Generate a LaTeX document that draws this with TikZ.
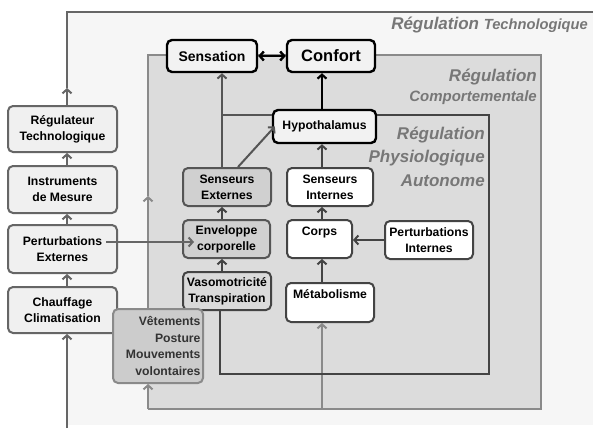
\documentclass[tikz,border=0pt]{standalone}
\usepackage{fontspec}
\setmainfont{Liberation Sans}
\usetikzlibrary{arrows.meta}
\definecolor{bgA}{HTML}{F6F6F6}
\definecolor{bgB}{HTML}{DCDCDC}
\definecolor{cLeft}{HTML}{F0F0F0}
\definecolor{cLeftB}{HTML}{666666}
\definecolor{cTop}{HTML}{F2F2F2}
\definecolor{cGray}{HTML}{D0D0D0}
\definecolor{cVaso}{HTML}{DADADA}
\definecolor{cVet}{HTML}{CCCCCC}
\definecolor{cVetB}{HTML}{8A8A8A}
\definecolor{cDark}{HTML}{444444}
\definecolor{cMid}{HTML}{555555}
\definecolor{cLab}{HTML}{777777}
\definecolor{cTxt}{HTML}{333333}
\begin{document}
\begin{tikzpicture}[x=1pt,y=-1pt,
  arr/.style={-{Straight Barb[length=4pt,width=9pt]}},
  dblarr/.style={{Straight Barb[length=4pt,width=9pt]}-{Straight Barb[length=4pt,width=9pt]}},
  box/.style={draw, rounded corners=5pt, line width=2pt, align=center, inner sep=0pt,
    font=\bfseries\fontsize{12.2}{16}\selectfont},
  leftbox/.style={box, fill=cLeft, draw=cLeftB, minimum width=109pt},
  topbox/.style={box, fill=cTop, draw=black, line width=2.4pt},
  graybox/.style={box, fill=cGray, draw=cMid},
  whitebox/.style={box, fill=white, draw=cDark},
  lineT/.style={draw=cLeftB, line width=2pt},
  lineC/.style={draw=cVetB, line width=2pt},
  lineP/.style={draw=cDark, line width=2.2pt},
  conn/.style={arr, draw=cDark, line width=2pt},
  lab/.style={text=cLab, font=\bfseries\itshape, inner sep=0pt, anchor=base east}
]
\useasboundingbox (0,0) rectangle (593,428);
\fill[white] (0,0) rectangle (593,428);
\fill[bgA] (67,12) rectangle (593,425);
\fill[bgB] (148,55) rectangle (541,409);

% column coordinates
\coordinate (colT) at (67,0);
\coordinate (colC) at (148,0);
\coordinate (colL) at (222,0);
\coordinate (colR) at (322,0);
\coordinate (colP) at (220,0);
\coordinate (yP) at (0,115);
\coordinate (tMark) at (67,88);
\coordinate (cMark) at (148,196);

% Behavioural regulation frame (behind the nodes)
\draw[lineC] (cMark) -- (148,55) -- (541,55) -- (541,409) -- (148,409);

% region labels
\node[lab] (lt1) at (588,30) {\fontsize{17}{20}\selectfont Régulation \fontsize{14.7}{18}\selectfont Technologique};
\node[lab] (lc1) at (537,81) {\fontsize{17}{20}\selectfont Régulation};
\node[lab] (lc2) at (537,101) {\fontsize{15}{18}\selectfont Comportementale};
\node[lab] (lp1) at (485,139) {\fontsize{17}{20}\selectfont Régulation};
\node[lab] (lp2) at (485,162.5) {\fontsize{17}{20}\selectfont Physiologique};
\node[lab] (lp3) at (485,186) {\fontsize{17}{20}\selectfont Autonome};

% nodes
\node[topbox, minimum width=90pt, minimum height=32pt, font=\bfseries\fontsize{14}{16}\selectfont] (sens) at (212,56) {Sensation};
\node[topbox, minimum width=88pt, minimum height=32pt, font=\bfseries\fontsize{16.5}{18}\selectfont] (conf) at (331,56) {Confort};
\node[topbox, minimum width=103pt, minimum height=33pt] (hyp) at (324.5,126.5) {Hypothalamus};
\node[graybox, minimum width=88pt, minimum height=38pt] (se) at (227,187) {Senseurs\\Externes};
\node[whitebox, minimum width=86pt, minimum height=38pt] (si) at (330,187) {Senseurs\\Internes};
\node[graybox, minimum width=87pt, minimum height=38pt] (env) at (226.5,239) {Enveloppe\\corporelle};
\node[whitebox, minimum width=65pt, minimum height=38pt] (corps) at (319.5,239) {Corps\\\mbox{}};
\node[whitebox, minimum width=88pt, minimum height=38pt] (pi) at (429,240) {Perturbations\\Internes};
\node[box, fill=cVaso, draw=cDark, minimum width=88pt, minimum height=38pt] (vaso) at (227,291) {Vasomotricité\\Transpiration};
\node[whitebox, minimum width=88pt, minimum height=39pt] (meta) at (330,302.5) {Métabolisme\\\mbox{}};

\node[leftbox, minimum height=46pt] (reg) at (62.5,129) {Régulateur\\Technologique};
\node[leftbox, minimum height=47pt] (ins) at (62.5,189.5) {Instruments\\de Mesure};
\node[leftbox, minimum height=48pt] (pe) at (62.5,249) {Perturbations\\Externes};
\node[leftbox, minimum height=46pt] (ch) at (62.5,310) {Chauffage\\Climatisation};

% Technological regulation frame and left column
\draw[lineT, arr] (reg.north -| colT) -- (tMark);
\draw[lineT] (tMark) -- (67,12) -- (593,12);
\draw[lineT, arr] (67,428) -- (ch.south -| colT);
\draw[lineT, arr] (ch.north -| colT) -- (pe.south -| colT);
\draw[lineT, arr] (pe.north -| colT) -- (ins.south -| colT);
\draw[lineT, arr] (ins.north -| colT) -- (reg.south -| colT);

% Vetements node (above left boxes)
\node[box, fill=cVet, draw=cVetB, text=cTxt, text width=85pt, align=right, inner xsep=2.5pt,
  minimum height=74pt, font=\bfseries\fontsize{12.2}{16.7}\selectfont] (vet) at (158,346)
  {Vêtements\\Posture\\Mouvements\\volontaires};

\draw[lineC, arr] (vet.north -| colC) -- (cMark);
\draw[lineC, arr] (148,409) -- (vet.south -| colC);
\draw[lineC, arr] (322,409) -- (meta.south -| colR);

% Physiological regulation frame
\draw[lineP] (hyp.east |- yP) -- (489,115) -- (489,374) -- (220,374) -- (vaso.south -| colP);
\draw[draw=cMid, line width=2pt] (colL |- yP) -- (hyp.west |- yP);

% connectors
\draw[dblarr, draw=black, line width=2.4pt] (sens) -- (conf);
\draw[arr, draw=black, line width=2.2pt] (hyp.north -| colR) -- (conf.south -| colR);
\draw[arr, draw=cMid, line width=2pt] (se.north -| colL) -- (sens.south -| colL);
\draw[arr, draw=cMid, line width=2pt] ([xshift=11pt]se.north) -- ([xshift=3pt]hyp.west);
\draw[conn] (si.north -| colR) -- (hyp.south -| colR);
\draw[conn] (corps.north -| colR) -- (si.south -| colR);
\draw[conn] (meta.north -| colR) -- (corps.south -| colR);
\draw[conn] (pi.west) -- (corps.east |- pi.west);
\draw[conn] (env.north -| colL) -- (se.south -| colL);
\draw[conn] (vaso.north -| colL) -- (env.south -| colL);
\draw[arr, draw=cLeftB, line width=2pt] ([xshift=-12pt,yshift=7pt]pe.east) -- ([xshift=12pt,yshift=-3pt]env.west);
\end{tikzpicture}
\end{document}
